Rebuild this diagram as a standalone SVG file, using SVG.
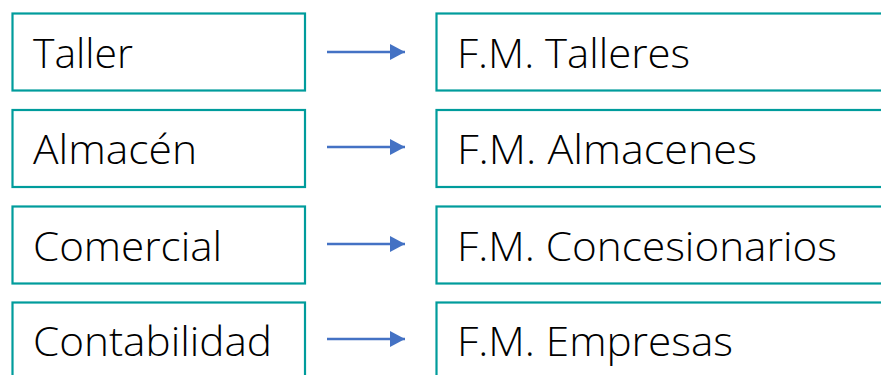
<svg xmlns="http://www.w3.org/2000/svg" width="881" height="375" viewBox="0 0 881 375">
<style>
.box{fill:#ffffff;stroke:#009C9C;stroke-width:2.2}
.t{font-family:"Open Sans","Liberation Sans",Arial,sans-serif;font-weight:300;font-size:40px;fill:#000000}
.c{stroke:#4472C4;stroke-width:2.6;fill:none}
</style>
<defs>
<marker id="ah" markerUnits="userSpaceOnUse" markerWidth="16" markerHeight="18" refX="15" refY="8" orient="auto" viewBox="0 0 16 16">
<path d="M0,0 L15,8 L0,16 Z" fill="#4472C4"/>
</marker>
</defs>
<rect width="881" height="375" fill="#ffffff"/>
<g id="n-taller"><rect class="box" x="12.5" y="13.5" width="292.5" height="77"/><text class="t" x="33" y="68" textLength="100" lengthAdjust="spacingAndGlyphs">Taller</text></g>
<g id="n-almacen"><rect class="box" x="12.5" y="110" width="292.5" height="77"/><text class="t" x="33" y="164" textLength="164" lengthAdjust="spacingAndGlyphs">Almacén</text></g>
<g id="n-comercial"><rect class="box" x="12.5" y="206.5" width="292.5" height="77"/><text class="t" x="33" y="261" textLength="189" lengthAdjust="spacingAndGlyphs">Comercial</text></g>
<g id="n-contabilidad"><rect class="box" x="12.5" y="302.5" width="292.5" height="77"/><text class="t" x="33" y="356" textLength="239" lengthAdjust="spacingAndGlyphs">Contabilidad</text></g>
<g id="n-fm-talleres"><rect class="box" x="436.5" y="13.5" width="460" height="77"/><text class="t" x="457" y="68" textLength="233" lengthAdjust="spacingAndGlyphs">F.M. Talleres</text></g>
<g id="n-fm-almacenes"><rect class="box" x="436.5" y="110" width="460" height="77"/><text class="t" x="457" y="164" textLength="300" lengthAdjust="spacingAndGlyphs">F.M. Almacenes</text></g>
<g id="n-fm-concesionarios"><rect class="box" x="436.5" y="206.5" width="460" height="77"/><text class="t" x="457" y="261" textLength="380" lengthAdjust="spacingAndGlyphs">F.M. Concesionarios</text></g>
<g id="n-fm-empresas"><rect class="box" x="436.5" y="302.5" width="460" height="77"/><text class="t" x="457" y="356" textLength="276" lengthAdjust="spacingAndGlyphs">F.M. Empresas</text></g>
<g id="connectors">
<line class="c" x1="327" y1="52" x2="405" y2="52" marker-end="url(#ah)"/>
<line class="c" x1="327" y1="147" x2="405" y2="147" marker-end="url(#ah)"/>
<line class="c" x1="327" y1="244" x2="405" y2="244" marker-end="url(#ah)"/>
<line class="c" x1="327" y1="339" x2="405" y2="339" marker-end="url(#ah)"/>
</g>
</svg>
